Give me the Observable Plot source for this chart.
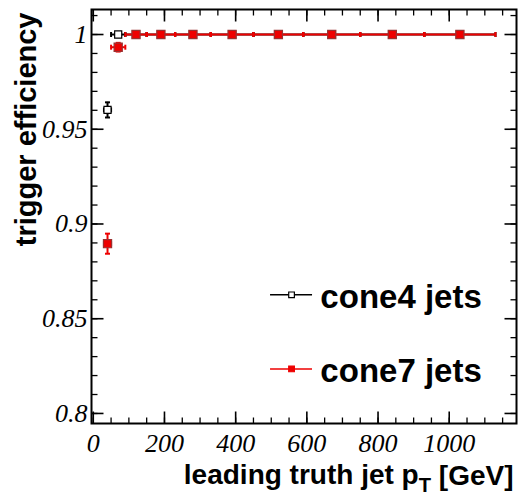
<!DOCTYPE html>
<html>
<head>
<meta charset="utf-8">
<script src="https://cdn.jsdelivr.net/npm/d3@7"></script>
<script src="https://cdn.jsdelivr.net/npm/@observablehq/plot@0.6"></script>
<style>
  html, body { margin: 0; padding: 0; background: white; }
  svg { display: block; }
</style>
</head>
<body>
<div id="chart"></div>
<script>
// ---- data ----
const binLow     = [30, 50, 90, 150, 230, 330, 450, 590, 750, 930];
const binHigh    = [50, 90, 150, 230, 330, 450, 590, 750, 930, 1130];
const binCenter  = [40, 70, 120, 190, 280, 390, 520, 670, 840, 1030];
const cone4Eff   = [0.9602, 1, 1, 1, 1, 1, 1, 1, 1, 1];
const cone4Err   = [0.0040, 0, 0, 0, 0, 0, 0, 0, 0, 0];
const cone7Eff   = [0.8896, 0.9933, 1, 1, 1, 1, 1, 1, 1, 1];
const cone7Err   = [0.0053, 0.0023, 0, 0, 0, 0, 0, 0, 0, 0];

const xMajorTicks = [0, 200, 400, 600, 800, 1000];
const xMinorTicks = d3.range(0, 1151, 50);
const yMajorTicks = [0.8, 0.85, 0.9, 0.95, 1];
const yMinorTicks = d3.range(80, 102).map(d => d / 100);

const seriesNames = ["cone4 jets", "cone7 jets"];
const xTitle = "leading truth jet pT [GeV]";
const yTitle = "trigger efficiency";

// ---- layout ----
const xDom = [-5, 1189];
const yDom = [0.7947, 1.0132];
const RED = "#ee0000";

const rows = (eff, err) => binCenter.map((c, i) => ({
  x: c, lo: binLow[i], hi: binHigh[i], y: eff[i], e: err[i]
}));
const c4 = rows(cone4Eff, cone4Err);
const c7 = rows(cone7Eff, cone7Err);

// custom "segment" symbols (pixel-size tick marks)
const seg = (x1, y1, x2, y2) => ({ draw(ctx) { ctx.moveTo(x1, y1); ctx.lineTo(x2, y2); } });

function frameTicks(len, w, ys, xs) {
  return [
    Plot.dot(ys, { x: () => xDom[0], y: d => d, symbol: seg(0, 0, len, 0), stroke: "black", strokeWidth: w, fill: "none" }),
    Plot.dot(ys, { x: () => xDom[1], y: d => d, symbol: seg(0, 0, -len, 0), stroke: "black", strokeWidth: w, fill: "none" }),
    Plot.dot(xs, { y: () => yDom[0], x: d => d, symbol: seg(0, 0, 0, -len), stroke: "black", strokeWidth: w, fill: "none" }),
    Plot.dot(xs, { y: () => yDom[1], x: d => d, symbol: seg(0, 0, 0, len), stroke: "black", strokeWidth: w, fill: "none" })
  ];
}

function seriesMarks(data, color, markerFill, markerStroke, r) {
  const withErr = data.filter(d => d.e > 0);
  const edges = data.flatMap(d => [{ x: d.lo, y: d.y }, { x: d.hi, y: d.y }]);
  return [
    Plot.ruleY(data, { x1: "lo", x2: "hi", y: "y", stroke: color, strokeWidth: 2 }),
    Plot.dot(edges, { x: "x", y: "y", symbol: seg(0, -2.5, 0, 2.5), stroke: color, strokeWidth: 2, fill: "none" }),
    Plot.ruleX(withErr, { x: "x", y1: d => d.y - d.e, y2: d => d.y + d.e, stroke: color, strokeWidth: 2 }),
    Plot.dot(withErr, { x: "x", y: d => d.y - d.e, symbol: seg(-2.5, 0, 2.5, 0), stroke: color, strokeWidth: 2, fill: "none" }),
    Plot.dot(withErr, { x: "x", y: d => d.y + d.e, symbol: seg(-2.5, 0, 2.5, 0), stroke: color, strokeWidth: 2, fill: "none" }),
    Plot.dot(data, { x: "x", y: "y", symbol: "square", r, fill: markerFill, stroke: markerStroke, strokeWidth: 1.2 })
  ];
}

// legend in data space
const legendRows = [
  { name: seriesNames[0], y: 0.8626, color: "black", fill: "white" },
  { name: seriesNames[1], y: 0.8235, color: RED, fill: RED }
];
const legLineX1 = 498, legLineX2 = 616, legMarkX = 557, legTextX = 638;

const tickFont = { fontSize: 26, fontFamily: "Liberation Serif", fontStyle: "italic", fill: "black" };

const chart = Plot.plot({
  width: 518,
  height: 498,
  marginLeft: 91,
  marginRight: 2,
  marginTop: 9,
  marginBottom: 75,
  x: { domain: xDom, axis: null },
  y: { domain: yDom, axis: null },
  style: { background: "white", color: "black" },
  marks: [
    ...seriesMarks(c4, "black", "white", "black", 4),
    ...seriesMarks(c7, RED, RED, "#9a3030", 4.6),
    // legend
    Plot.ruleY(legendRows, { x1: legLineX1, x2: legLineX2, y: "y", stroke: "color", strokeWidth: 1.5 }),
    Plot.dot(legendRows, { x: legMarkX, y: "y", symbol: "square", r: 3.2, fill: "fill", stroke: "color", strokeWidth: 1.2 }),
    Plot.text(legendRows, { x: legTextX, y: "y", text: "name", textAnchor: "start", lineAnchor: "middle", dy: 3,
      fontSize: 33, fontWeight: "bold", fill: "black", fontFamily: "Liberation Sans" }),
    // frame + ticks
    Plot.frame({ stroke: "black", strokeWidth: 2 }),
    ...frameTicks(12, 1.6, yMajorTicks, xMajorTicks),
    ...frameTicks(6, 1.3, yMinorTicks, xMinorTicks),
    // tick labels
    Plot.text(xMajorTicks, { x: d => d, y: () => yDom[0], text: d => String(d), textAnchor: "middle", lineAnchor: "top", dy: 10, ...tickFont }),
    Plot.text(yMajorTicks, { x: () => xDom[0], y: d => d, text: d => String(d), textAnchor: "end", lineAnchor: "middle", dx: -4, ...tickFont }),
    // axis titles
    Plot.text([xTitle], { frameAnchor: "bottom-right", textAnchor: "end", lineAnchor: "middle", dx: -3, dy: 52,
      fontSize: 28, fontWeight: "bold", fill: "black", fontFamily: "Liberation Sans" }),
    Plot.text([yTitle], { frameAnchor: "top-left", rotate: -90, textAnchor: "end", lineAnchor: "middle", dx: -65, dy: 3,
      fontSize: 29, fontWeight: "bold", fill: "black", fontFamily: "Liberation Sans" })
  ]
});

// subscript T in the x title
d3.select(chart).selectAll("text").filter(function () { return this.textContent === xTitle; }).each(function () {
  const t = d3.select(this);
  t.text(null);
  t.append("tspan").text("leading truth jet p");
  t.append("tspan").attr("dy", "0.35em").attr("font-size", "0.72em").text("T");
  t.append("tspan").attr("dy", "-0.25em").text(" [GeV]");
});

document.getElementById("chart").appendChild(chart);
</script>
</body>
</html>
